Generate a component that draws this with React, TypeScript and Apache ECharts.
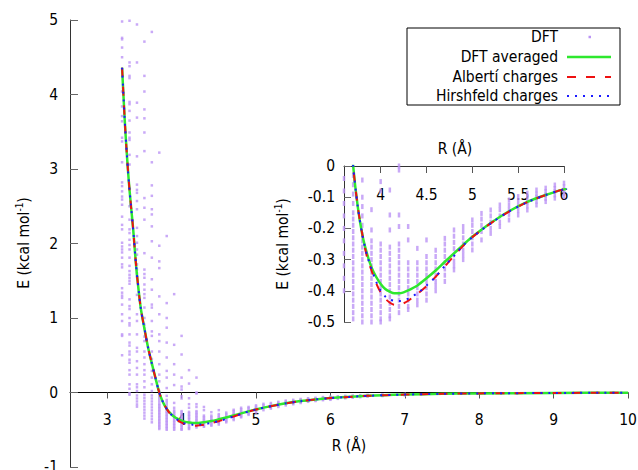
import React, { useEffect, useRef } from "react";
import * as echarts from "echarts";

const FONT = '"DejaVu Sans Condensed", "DejaVu Sans", sans-serif';
const FS = 15.5;

const seriesNames = ["DFT", "DFT averaged", "Albertí charges", "Hirshfeld charges"];
const seriesColors = ["#bb94f5", "#2ee82e", "#ee1111", "#1a1aff"];
const mainXTicks = [3, 4, 5, 6, 7, 8, 9, 10];
const insetXTicks = [4, 4.5, 5, 5.5, 6];
const axisTitleX = "R (Å)";

// DFT raw energies, one column per distance R
const dftR = [3.2, 3.3, 3.4, 3.5, 3.6, 3.7, 3.8, 3.9, 4.0, 4.1, 4.2, 4.3, 4.4, 4.5, 4.6, 4.7, 4.8, 4.9, 5.0, 5.1, 5.2, 5.3, 5.4, 5.5, 5.6, 5.7, 5.8, 5.9, 6.0, 6.1, 6.2, 6.3, 6.4, 6.5, 6.7, 7.0];
const dftE = [
  [4.98, 4.76, 4.74, 4.63, 4.5, 4.04, 3.84, 3.71, 3.64, 3.42, 3.37, 3.09, 2.82, 2.77, 2.7, 2.63, 2.59, 2.52, 2.36, 2.25, 2.19, 2.01, 1.96, 1.92, 1.88, 1.81, 1.72, 1.68, 1.4, 1.34, 1.3, 1.27, 1.18, 1.05, 0.96, 0.78, 0.76, 0.5],
  [4.99, 4.43, 4.38, 4.25, 4.22, 3.9, 3.87, 3.78, 3.65, 3.49, 3.42, 3.39, 3.19, 3.06, 2.5, 2.32, 2.19, 2.14, 2.05, 1.98, 1.92, 1.81, 1.7, 1.63, 1.58, 1.54, 1.5, 1.46, 1.25, 1.16, 1.12, 1.0, 0.93, 0.9, 0.78, 0.67, 0.63, 0.55, 0.51, 0.44, 0.4, 0.3, 0.24, 0.11, 0.05, -0.01, -0.03],
  [4.94, 4.43, 3.89, 3.69, 3.17, 2.79, 2.72, 2.68, 2.57, 2.46, 2.21, 2.1, 2.01, 1.92, 1.85, 1.72, 1.65, 1.6, 1.55, 1.31, 1.05, 0.96, 0.78, 0.6, 0.55, 0.42, 0.33, 0.24, 0.11, 0.07, 0.02, -0.04, -0.08, -0.12, -0.16, -0.19],
  [4.71, 4.25, 4.04, 3.8, 3.68, 3.49, 3.24, 2.61, 2.48, 2.32, 1.87, 1.65, 1.59, 1.54, 1.45, 1.38, 1.32, 1.27, 1.14, 1.0, 0.91, 0.86, 0.75, 0.69, 0.55, 0.47, 0.38, 0.3, 0.24, 0.15, 0.07, -0.03, -0.07, -0.11, -0.15, -0.19, -0.23, -0.27, -0.31, -0.35],
  [4.84, 3.09, 2.78, 2.64, 2.46, 2.39, 2.23, 2.03, 1.81, 1.52, 1.38, 1.18, 1.14, 0.96, 0.82, 0.76, 0.55, 0.45, 0.38, 0.29, 0.2, 0.11, 0.02, -0.04, -0.08, -0.12, -0.16, -0.2, -0.24, -0.28, -0.32, -0.36, -0.4],
  [3.22, 1.97, 1.76, 1.67, 1.29, 1.05, 0.78, 0.69, 0.55, 0.38, 0.24, 0.15, 0.02, -0.03, -0.06, -0.09, -0.12, -0.15, -0.17, -0.19, -0.21, -0.23, -0.25, -0.27, -0.29, -0.31, -0.33, -0.35, -0.37, -0.39, -0.41, -0.43, -0.45, -0.47, -0.49],
  [2.1, 1.2, 1.0, 0.87, 0.67, 0.47, 0.29, 0.2, 0.06, -0.045, -0.1, -0.13, -0.16, -0.19, -0.22, -0.24, -0.26, -0.28, -0.3, -0.32, -0.34, -0.36, -0.38, -0.4, -0.42, -0.44, -0.46, -0.48, -0.5],
  [1.32, 0.64, 0.38, 0.24, 0.1, -0.14, -0.205, -0.24, -0.26, -0.28, -0.3, -0.32, -0.34, -0.36, -0.38, -0.4, -0.42, -0.44, -0.46, -0.48, -0.5],
  [0.76, 0.51, 0.2, 0.08, 0.04, -0.05, -0.08, -0.25, -0.27, -0.29, -0.31, -0.33, -0.35, -0.37, -0.39, -0.41, -0.43, -0.45, -0.47, -0.49, -0.5],
  [0.3, 0.12, -0.077, -0.157, -0.205, -0.26, -0.28, -0.3, -0.32, -0.34, -0.36, -0.38, -0.4, -0.42, -0.44, -0.46, -0.48, -0.49],
  [0.2, 0.0, -0.013, -0.157, -0.194, -0.25, -0.27, -0.29, -0.31, -0.33, -0.35, -0.37, -0.39, -0.41, -0.43, -0.45, -0.47],
  [-0.194, -0.237, -0.31, -0.33, -0.35, -0.37, -0.39, -0.41, -0.43, -0.45, -0.46],
  [-0.264, -0.31, -0.33, -0.35, -0.37, -0.39, -0.41, -0.43, -0.445],
  [-0.237, -0.29, -0.31, -0.33, -0.35, -0.37, -0.39, -0.41, -0.43],
  [-0.27, -0.29, -0.31, -0.33, -0.35, -0.37, -0.385, -0.4],
  [-0.232, -0.25, -0.27, -0.29, -0.31, -0.33, -0.35, -0.37],
  [-0.205, -0.225, -0.245, -0.265, -0.285, -0.305, -0.32, -0.333],
  [-0.194, -0.21, -0.23, -0.25, -0.27, -0.285, -0.3],
  [-0.173, -0.19, -0.21, -0.23, -0.25, -0.269],
  [-0.152, -0.17, -0.19, -0.21, -0.237],
  [-0.141, -0.16, -0.18, -0.2, -0.216],
  [-0.125, -0.14, -0.16, -0.18, -0.194],
  [-0.109, -0.125, -0.14, -0.155, -0.173],
  [-0.098, -0.113, -0.128, -0.143, -0.157],
  [-0.087, -0.1, -0.115, -0.128, -0.141],
  [-0.077, -0.09, -0.1, -0.113, -0.125],
  [-0.071, -0.082, -0.093, -0.104, -0.114],
  [-0.061, -0.072, -0.082, -0.093, -0.103],
  [-0.055, -0.066, -0.077, -0.088, -0.098],
  [-0.05, -0.062, -0.074, -0.085],
  [-0.045, -0.056, -0.067, -0.077],
  [-0.04, -0.05, -0.06, -0.07],
  [-0.036, -0.045, -0.054, -0.063],
  [-0.032, -0.04, -0.048, -0.056],
  [-0.026, -0.033, -0.04, -0.047],
  [-0.02, -0.026, -0.032, -0.038],
];

// Fitted / averaged curves
const curveR = [3.2, 3.22, 3.24, 3.26, 3.28, 3.3, 3.32, 3.35, 3.38, 3.4, 3.45, 3.5, 3.55, 3.6, 3.65, 3.7, 3.75, 3.8, 3.85, 3.9, 3.95, 4.0, 4.05, 4.1, 4.15, 4.2, 4.25, 4.3, 4.4, 4.5, 4.6, 4.7, 4.8, 4.9, 5.0, 5.2, 5.4, 5.6, 5.8, 6.0, 6.5, 7.0, 7.5, 8.0, 9.0, 10.0];
const avgE = [4.36, 3.96, 3.58, 3.26, 2.97, 2.72, 2.5, 2.18, 1.8, 1.58, 1.14, 0.86, 0.6, 0.39, 0.19, 0.0, -0.13, -0.22, -0.28, -0.325, -0.355, -0.378, -0.394, -0.403, -0.408, -0.408, -0.405, -0.399, -0.383, -0.36, -0.335, -0.307, -0.28, -0.253, -0.227, -0.183, -0.145, -0.115, -0.093, -0.075, -0.045, -0.028, -0.018, -0.012, -0.006, -0.003];
const albertiE = [4.36, 3.96, 3.58, 3.26, 2.97, 2.72, 2.5, 2.18, 1.8, 1.58, 1.14, 0.86, 0.6, 0.39, 0.19, 0.0, -0.13, -0.22, -0.29, -0.335, -0.375, -0.405, -0.425, -0.438, -0.445, -0.445, -0.44, -0.432, -0.41, -0.385, -0.355, -0.322, -0.288, -0.256, -0.228, -0.184, -0.146, -0.116, -0.093, -0.075, -0.045, -0.028, -0.018, -0.012, -0.006, -0.003];
const hirshE = [4.36, 3.96, 3.58, 3.26, 2.97, 2.72, 2.5, 2.18, 1.8, 1.58, 1.14, 0.86, 0.6, 0.39, 0.19, 0.0, -0.13, -0.22, -0.285, -0.33, -0.37, -0.4, -0.418, -0.428, -0.432, -0.433, -0.43, -0.425, -0.408, -0.383, -0.355, -0.32, -0.288, -0.255, -0.228, -0.184, -0.146, -0.116, -0.093, -0.075, -0.045, -0.028, -0.018, -0.012, -0.006, -0.003];

const dashRed = [9, 10];
const dotBlue = [2, 6];

export default function App() {
  const ref = useRef<HTMLDivElement>(null);

  useEffect(() => {
    if (!ref.current) return;
    const chart = echarts.init(ref.current, null, { renderer: "svg" });

    const dftPoints: number[][] = [];
    dftR.forEach((r, i) => dftE[i].forEach((e) => dftPoints.push([r, e])));
    const pairs = (ys: number[]) => curveR.map((r, i) => [r, ys[i]]);
    const curves = [avgE, albertiE, hirshE];
    const lineTypes: any[] = ["solid", dashRed, dotBlue];
    const lineWidths = [2.5, 2, 2];

    const series: any[] = [];
    [0, 1].forEach((ax) => {
      series.push({
        type: "scatter",
        name: seriesNames[0],
        xAxisIndex: ax,
        yAxisIndex: ax,
        data: dftPoints,
        symbol: "rect",
        symbolSize: ax === 0 ? 2.5 : [2.5, 5],
        itemStyle: { color: seriesColors[0], opacity: 0.8 },
        silent: true,
        clip: true,
        z: 2,
      });
      curves.forEach((c, k) => {
        series.push({
          type: "line",
          name: seriesNames[k + 1],
          xAxisIndex: ax,
          yAxisIndex: ax,
          data: pairs(c),
          showSymbol: false,
          symbol: "none",
          smooth: 0.3,
          clip: true,
          silent: true,
          lineStyle: { color: seriesColors[k + 1], width: lineWidths[k], type: lineTypes[k], cap: "butt" },
          z: 3 + k,
        });
      });
    });

    const textStyle = (text: string, extra: any = {}) => ({
      text,
      fill: "#000",
      fontSize: FS,
      fontFamily: FONT,
      ...extra,
    });

    const yTitleRich = {
      n: { fontSize: FS, fontFamily: FONT, fill: "#000", color: "#000" },
      s: { fontSize: 10, fontFamily: FONT, fill: "#000", color: "#000", padding: [0, 0, 10, 0] },
    };
    const yTitleText = "{n|E (kcal mol}{s|-1}{n|)}";

    const legendX0 = 407, legendY0 = 28, legendW = 213, legendH = 77;
    const legendRows = [37, 57, 77, 96];
    const legendEls: any[] = [
      {
        type: "rect",
        shape: { x: legendX0, y: legendY0, width: legendW, height: legendH },
        style: { fill: "#fff", stroke: "#000", lineWidth: 1 },
        z: 100,
      },
    ];
    seriesNames.forEach((nm, i) => {
      legendEls.push({
        type: "text",
        x: 558,
        y: legendRows[i],
        style: textStyle(nm, { align: "right", textAlign: "right", verticalAlign: "middle", textVerticalAlign: "middle" }),
        z: 101,
      });
      if (i === 0) {
        legendEls.push({
          type: "rect",
          shape: { x: 588.5, y: legendRows[i] - 1.25, width: 2.5, height: 2.5 },
          style: { fill: seriesColors[0] },
          z: 101,
        });
      } else {
        legendEls.push({
          type: "line",
          shape: { x1: 567, y1: legendRows[i], x2: 611, y2: legendRows[i] },
          style: {
            stroke: seriesColors[i],
            lineWidth: lineWidths[i - 1],
            lineDash: i === 1 ? null : i === 2 ? dashRed : dotBlue,
          },
          z: 101,
        });
      }
    });

    const option: any = {
      animation: false,
      backgroundColor: "#fff",
      textStyle: { fontFamily: FONT },
      grid: [
        { left: 70, top: 20, width: 558, height: 447, containLabel: false, outerBoundsMode: "none" },
        { left: 344, top: 166, width: 220, height: 156, containLabel: false, outerBoundsMode: "none" },
      ],
      xAxis: [
        {
          type: "value",
          gridIndex: 0,
          min: 2.5,
          max: 10,
          axisLine: { show: true, onZero: true, lineStyle: { color: "#000", width: 1 } },
          axisTick: { show: true, customValues: mainXTicks, length: 6, lineStyle: { color: "#555" } },
          axisLabel: { customValues: mainXTicks, margin: -55, fontSize: FS, fontFamily: FONT, color: "#000" },
          splitLine: { show: false },
        },
        {
          type: "value",
          gridIndex: 1,
          position: "top",
          min: 3.6,
          max: 6,
          axisLine: { show: true, onZero: false, lineStyle: { color: "#333", width: 1 } },
          axisTick: { show: true, inside: true, customValues: insetXTicks, length: 7, lineStyle: { color: "#555" } },
          axisLabel: { inside: true, customValues: insetXTicks, margin: 21, fontSize: FS, fontFamily: FONT, color: "#000", formatter: (v: number) => String(v) },
          splitLine: { show: false },
        },
      ],
      yAxis: [
        {
          type: "value",
          gridIndex: 0,
          min: -1,
          max: 5,
          interval: 1,
          axisLine: { show: true, onZero: false, lineStyle: { color: "#333", width: 1 } },
          axisTick: { show: true, inside: true, length: 8, lineStyle: { color: "#666" } },
          axisLabel: { margin: 12, fontSize: FS, fontFamily: FONT, color: "#000" },
          splitLine: { show: false },
        },
        {
          type: "value",
          gridIndex: 1,
          min: -0.5,
          max: 0,
          interval: 0.1,
          axisLine: { show: true, onZero: false, lineStyle: { color: "#333", width: 1 } },
          axisTick: { show: true, inside: true, length: 7, lineStyle: { color: "#666" } },
          axisLabel: {
            margin: 9,
            fontSize: FS,
            fontFamily: FONT,
            color: "#000",
            formatter: (v: number) => String(Math.round(v * 10) / 10),
          },
          splitLine: { show: false },
        },
      ],
      series,
      graphic: [
        {
          type: "text",
          x: 349,
          y: 446,
          style: textStyle(axisTitleX, { align: "center", textAlign: "center", verticalAlign: "middle", textVerticalAlign: "middle" }),
        },
        {
          type: "text",
          x: 455,
          y: 149,
          style: textStyle(axisTitleX, { align: "center", textAlign: "center", verticalAlign: "middle", textVerticalAlign: "middle" }),
        },
        {
          type: "text",
          x: 24,
          y: 243,
          rotation: Math.PI / 2,
          style: { text: yTitleText, rich: yTitleRich, fill: "#000", align: "center", textAlign: "center", verticalAlign: "middle", textVerticalAlign: "middle" },
        },
        {
          type: "text",
          x: 283,
          y: 244,
          rotation: Math.PI / 2,
          style: { text: yTitleText, rich: yTitleRich, fill: "#000", align: "center", textAlign: "center", verticalAlign: "middle", textVerticalAlign: "middle" },
        },
        ...legendEls,
      ],
    };

    chart.setOption(option);
    return () => chart.dispose();
  }, []);

  return (
    <div
      ref={ref}
      style={{ position: "fixed", left: 0, top: 0, width: 638, height: 470, background: "#fff" }}
    />
  );
}
